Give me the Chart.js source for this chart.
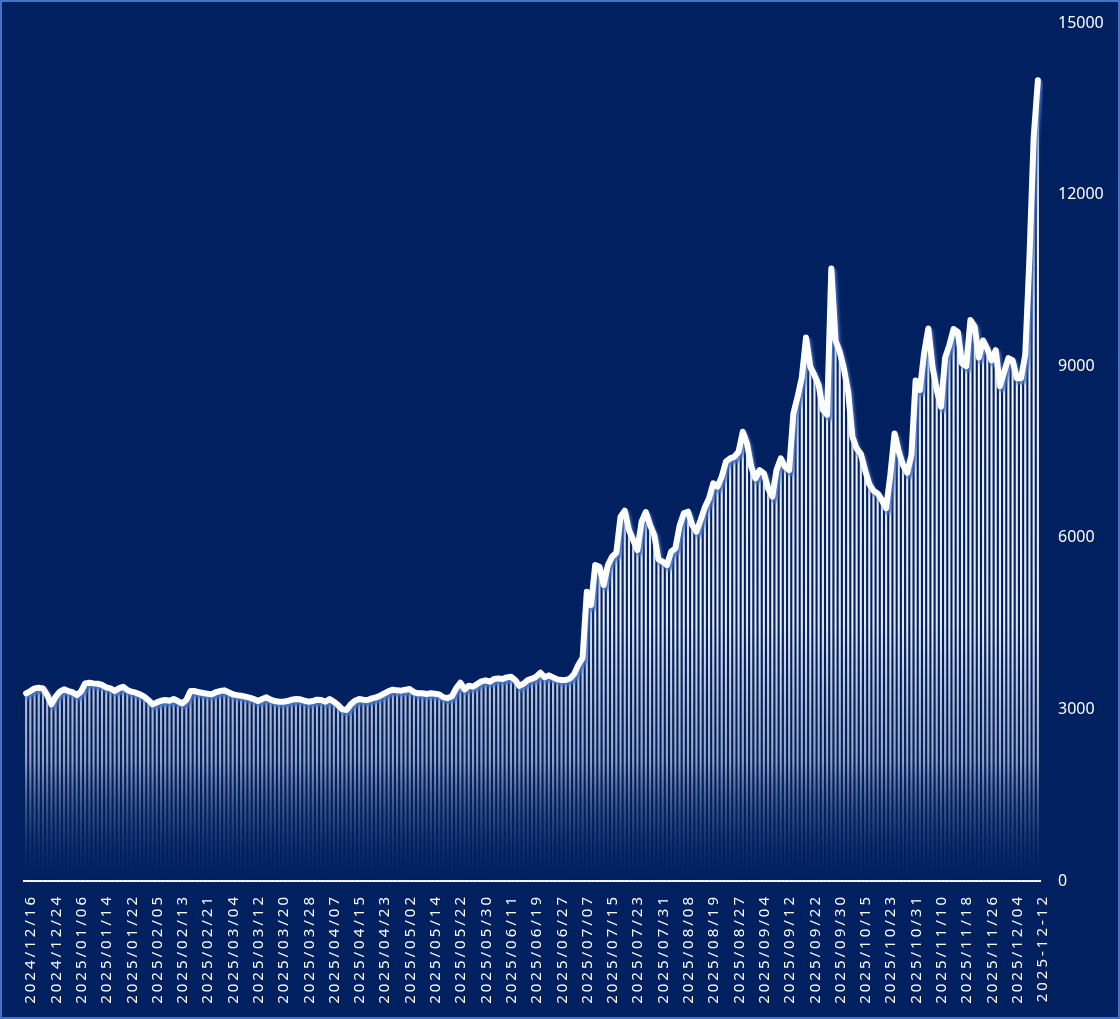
<!DOCTYPE html>
<html>
<head>
<meta charset="utf-8">
<title>Chart</title>
<script src="https://cdn.jsdelivr.net/npm/chart.js@4.4.1/dist/chart.umd.min.js"></script>
<style>
  html, body { margin: 0; padding: 0; background: #002060; }
  #wrap { position: relative; width: 1120px; height: 1019px; box-sizing: border-box;
          border: 2px solid #4472C4; background: #002060; }
  canvas { display: block; }
</style>
</head>
<body>
<div id="wrap"><canvas id="c"></canvas></div>
<script>
// ---- data ----
const tickLabels = [
  '2024/12/16','2024/12/24','2025/01/06','2025/01/14','2025/01/22','2025/02/05','2025/02/13',
  '2025/02/21','2025/03/04','2025/03/12','2025/03/20','2025/03/28','2025/04/07','2025/04/15',
  '2025/04/23','2025/05/02','2025/05/14','2025/05/22','2025/05/30','2025/06/11','2025/06/19',
  '2025/06/27','2025/07/07','2025/07/15','2025/07/23','2025/07/31','2025/08/08','2025/08/19',
  '2025/08/27','2025/09/04','2025/09/12','2025/09/22','2025/09/30','2025/10/15','2025/10/23',
  '2025/10/31','2025/11/10','2025/11/18','2025/11/26','2025/12/04','2025-12-12'
];
const TICK_EVERY = 6;

const values = [
  3281,3321,3368,3380,3368,3250,3088,3222,3310,3350,
  3321,3300,3250,3310,3455,3466,3455,3450,3427,3386,
  3368,3321,3368,3397,3339,3310,3292,3263,3222,3164,
  3088,3123,3152,3164,3152,3181,3146,3105,3164,3321,
  3321,3300,3286,3275,3263,3300,3321,3333,3300,3265,
  3250,3240,3222,3205,3181,3146,3181,3210,3170,3146,
  3135,3135,3146,3170,3181,3176,3152,3135,3146,3170,
  3164,3135,3181,3135,3076,3001,2989,3088,3152,3181,
  3170,3164,3193,3210,3240,3281,3321,3345,3333,3327,
  3345,3356,3300,3281,3281,3269,3281,3275,3263,3210,
  3200,3230,3368,3467,3350,3415,3397,3444,3490,3508,
  3484,3531,3543,3531,3560,3572,3513,3410,3450,3513,
  3537,3572,3642,3560,3595,3560,3525,3513,3513,3540,
  3620,3780,3900,5058,4824,5524,5494,5174,5524,5669,
  5739,6369,6474,6136,5961,5786,6281,6450,6223,6048,
  5622,5582,5524,5757,5815,6206,6427,6456,6223,6107,
  6310,6532,6689,6951,6893,7068,7330,7388,7417,7505,
  7854,7650,7242,7038,7184,7126,6864,6718,7184,7388,
  7242,7184,8175,8466,8800,9500,8990,8845,8670,8233,
  8150,10710,9450,9250,8950,8550,7767,7563,7465,7184,
  6940,6823,6776,6660,6514,7100,7825,7505,7271,7137,
  7446,8750,8583,9224,9660,8990,8583,8291,9150,9369,
  9650,9600,9050,9000,9806,9690,9150,9450,9300,9100,
  9280,8650,8900,9140,9100,8790,8790,9200,10900,13000,
  14000
];

const yMin = 0, yMax = 15000, yStep = 3000;

// category labels built from the tick labels (one label every TICK_EVERY points)
const categories = values.map((v, i) => (i % TICK_EVERY === 0 ? (tickLabels[i / TICK_EVERY] || '') : ''));

// ---- plugins ----
const lineShadow = {
  id: 'lineShadow',
  beforeDatasetDraw(chart, args) {
    if (chart.data.datasets[args.index].type === 'line') {
      const c = chart.ctx;
      c.save();
      c.shadowColor = 'rgba(68,114,196,0.95)';
      c.shadowBlur = 3;
      c.shadowOffsetX = 2;
      c.shadowOffsetY = 3;
    }
  },
  afterDatasetDraw(chart, args) {
    if (chart.data.datasets[args.index].type === 'line') chart.ctx.restore();
  }
};

const xLetterSpacing = {
  id: 'xLetterSpacing',
  beforeDraw(chart) {
    const s = chart.scales.x;
    if (s && !s._spacingPatched) {
      const orig = s.drawLabels;
      s.drawLabels = function (area) {
        const c = this.ctx;
        c.save();
        c.letterSpacing = '3px';
        orig.call(this, area);
        c.restore();
      };
      s._spacingPatched = true;
    }
  }
};

function barFill(context) {
  const chart = context.chart;
  const a = chart.chartArea;
  if (!a) return 'rgba(230,235,245,0.85)';
  const key = a.top + '_' + a.bottom;
  if (chart._barGradKey !== key) {
    const g = chart.ctx.createLinearGradient(0, a.top, 0, a.bottom);
    g.addColorStop(0, 'rgba(255,255,255,1)');
    g.addColorStop(0.7, 'rgba(240,244,250,0.95)');
    g.addColorStop(0.86, 'rgba(195,205,225,0.75)');
    g.addColorStop(1, 'rgba(0,32,96,0.15)');
    chart._barGrad = g;
    chart._barGradKey = key;
  }
  return chart._barGrad;
}

new Chart(document.getElementById('c'), {
  type: 'bar',
  data: {
    labels: categories,
    datasets: [
      {
        type: 'line',
        data: values,
        borderColor: '#ffffff',
        borderWidth: 6,
        pointRadius: 0,
        tension: 0,
        borderJoinStyle: 'round',
        borderCapStyle: 'round',
        order: 0
      },
      {
        type: 'bar',
        data: values,
        backgroundColor: barFill,
        borderWidth: 0,
        barPercentage: 0.5,
        categoryPercentage: 1.0,
        order: 1
      }
    ]
  },
  options: {
    responsive: true,
    maintainAspectRatio: false,
    animation: false,
    layout: { padding: { top: 21, left: 22, right: 0, bottom: 0 } },
    plugins: { legend: { display: false }, tooltip: { enabled: false } },
    scales: {
      x: {
        offset: true,
        grid: { display: false, drawTicks: false },
        border: { display: true, color: '#ffffff', width: 2 },
        ticks: {
          autoSkip: false, maxRotation: 90, minRotation: 90,
          color: '#ffffff', padding: 13, labelOffset: 5,
          font: { family: "'Noto Sans', 'DejaVu Sans', sans-serif", size: 15 }
        },
        afterFit(s) { s.height = 136; s.paddingLeft = 0; s.paddingRight = 0; }
      },
      y: {
        position: 'right',
        min: yMin, max: yMax,
        grid: { display: false, drawTicks: false },
        border: { display: false },
        ticks: {
          stepSize: yStep, color: '#ffffff', padding: 18,
          font: { family: "'Noto Sans', 'DejaVu Sans', sans-serif", size: 16 },
          callback: (v) => String(v)
        },
        afterFit(s) { s.width = 78; s.paddingTop = 10; s.paddingBottom = 10; }
      }
    }
  },
  plugins: [lineShadow, xLetterSpacing]
});
</script>
</body>
</html>
